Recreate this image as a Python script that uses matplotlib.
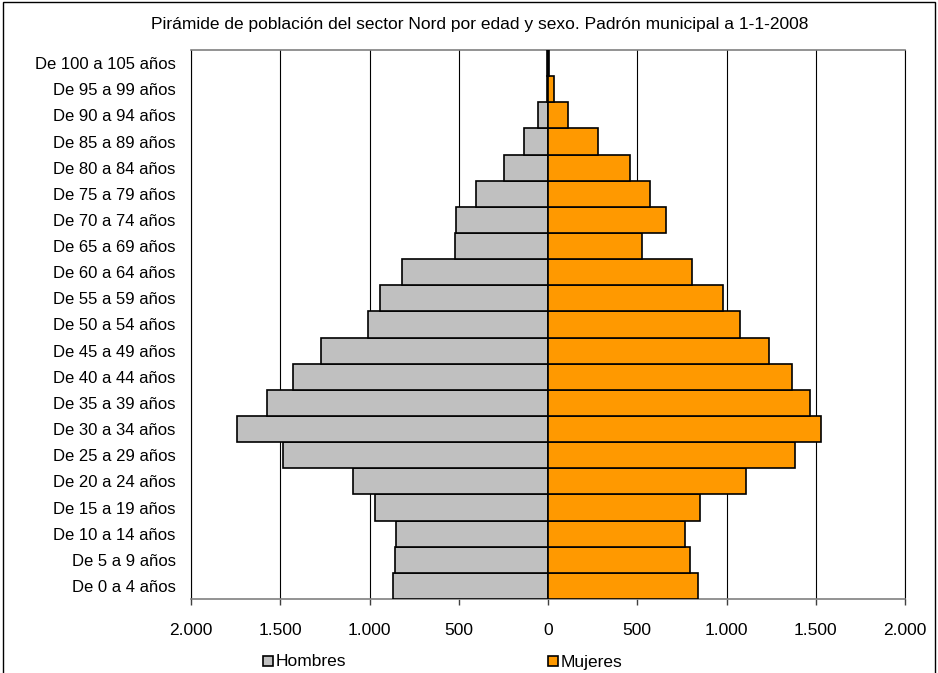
import matplotlib
matplotlib.use("Agg")
import matplotlib.pyplot as plt
from matplotlib.patches import Rectangle
from matplotlib.ticker import FuncFormatter

plt.rcParams['font.family'] = ['Liberation Sans', 'DejaVu Sans']

categories = ["De 0 a 4 años", "De 5 a 9 años", "De 10 a 14 años", "De 15 a 19 años",
              "De 20 a 24 años", "De 25 a 29 años", "De 30 a 34 años", "De 35 a 39 años",
              "De 40 a 44 años", "De 45 a 49 años", "De 50 a 54 años", "De 55 a 59 años",
              "De 60 a 64 años", "De 65 a 69 años", "De 70 a 74 años", "De 75 a 79 años",
              "De 80 a 84 años", "De 85 a 89 años", "De 90 a 94 años", "De 95 a 99 años",
              "De 100 a 105 años"]
hombres = [870, 859, 849, 970, 1095, 1486, 1743, 1575, 1428, 1272, 1006, 939,
           816, 523, 514, 402, 244, 132, 54, 8, 4]
mujeres = [840, 795, 769, 851, 1108, 1385, 1531, 1465, 1365, 1240, 1074, 983,
           804, 527, 661, 570, 458, 279, 113, 33, 3]
series_names = ["Hombres", "Mujeres"]
x_ticks = [-2000, -1500, -1000, -500, 0, 500, 1000, 1500, 2000]
title = "Pirámide de población del sector Nord por edad y sexo. Padrón municipal a 1-1-2008"

GREY = "#C0C0C0"
ORANGE = "#FF9900"

W, H = 938, 673
fig = plt.figure(figsize=(W/100, H/100), dpi=100)
ax = fig.add_axes([191/W, 1 - 599/H, (905-191)/W, (599-50)/H])

y = list(range(len(categories)))
ax.barh(y, [-v for v in hombres], height=1.0, color=GREY, edgecolor="black", linewidth=1.2, zorder=3)
ax.barh(y, mujeres, height=1.0, color=ORANGE, edgecolor="black", linewidth=1.2, zorder=3)

ax.set_xlim(-2000, 2000)
ax.set_ylim(-0.5, len(categories) - 0.5)
ax.set_xticks(x_ticks)
ax.xaxis.set_major_formatter(FuncFormatter(lambda v, p: f"{abs(int(v)):,}".replace(",", ".")))
ax.set_yticks(y)
ax.set_yticklabels(categories)
ax.tick_params(axis='y', length=0, pad=11, labelsize=12)
ax.tick_params(axis='x', length=4, width=1, color="#404040", pad=13, labelsize=12.5, direction='out')
ax.grid(axis='x', color="black", linewidth=0.8, zorder=0)
for s in ['top', 'bottom']:
    ax.spines[s].set_color("#808080")
    ax.spines[s].set_linewidth(1.2)
ax.spines['left'].set_color("black")
ax.spines['right'].set_color("black")
ax.spines['left'].set_linewidth(0.8)
ax.spines['right'].set_linewidth(0.8)

fig.text(480/W, 1 - 25/H, title, ha='center', va='center', fontsize=12.5)

# legend (manual, so both entries share one baseline)
for name, color, x0 in zip(series_names, [GREY, ORANGE], [263, 548]):
    fig.patches.append(Rectangle((x0/W, 1 - 666/H), 10/W, 10/H, transform=fig.transFigure,
                                 facecolor=color, edgecolor='black', linewidth=1.2))
    fig.text((x0 + 13)/W, 1 - 666.5/H, name, ha='left', va='baseline', fontsize=12.5)

fig.patches.append(Rectangle((3/W, -0.05), (935-3)/W, 1 - 2/H + 0.05,
                             transform=fig.transFigure, fill=False, edgecolor='black',
                             linewidth=1.0))

fig.savefig("out.png", dpi=100)
